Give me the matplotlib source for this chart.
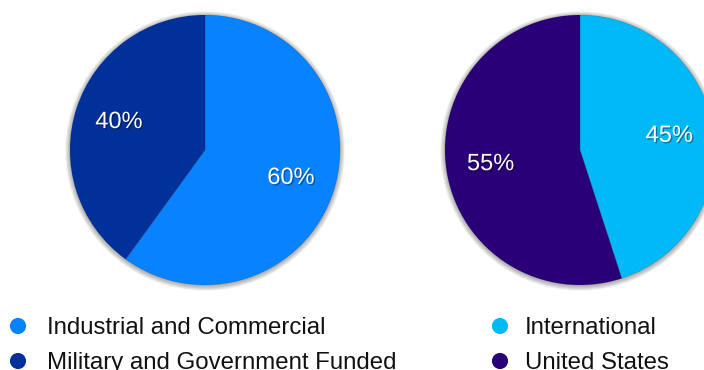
import matplotlib
matplotlib.use("Agg")
import matplotlib.pyplot as plt
import matplotlib.patheffects as pe
from matplotlib.patches import Circle

plt.rcParams['font.family'] = ['Liberation Sans', 'DejaVu Sans']

# Funding source split
source_labels = ["Industrial and Commercial", "Military and Government Funded"]
source_values = [60, 40]
source_colors = ["#0882FF", "#00309A"]

# Market split
market_labels = ["International", "United States"]
market_values = [45, 55]
market_colors = ["#00B9F6", "#2A0079"]

W, H = 704, 370
fig = plt.figure(figsize=(W / 100, H / 100), dpi=100)
ax = fig.add_axes([0, 0, 1, 1])
ax.set_xlim(0, W)
ax.set_ylim(0, H)
ax.set_aspect('equal', adjustable='box')
ax.axis('off')

R = 135
centers = [(205, H - 150), (580, H - 150)]

label_fx = [pe.SimplePatchShadow(offset=(1, -1), shadow_rgbFace='black', alpha=0.35),
            pe.Normal()]


def soft_shadow(cx, cy):
    # layered translucent rings give a blurred drop shadow around the disc
    for i in range(6, 0, -1):
        ax.add_patch(Circle((cx, cy - 1), R + i * 0.8, facecolor='black',
                            edgecolor='none', alpha=0.05, zorder=0))


for (cx, cy), vals, cols in [(centers[0], source_values, source_colors),
                             (centers[1], market_values, market_colors)]:
    soft_shadow(cx, cy)
    wedges, _, autotexts = ax.pie(
        vals, colors=cols, center=(cx, cy), radius=R, startangle=90,
        counterclock=False, autopct='%d%%', pctdistance=0.67,
        wedgeprops=dict(linewidth=0.6, edgecolor=(0, 0, 0, 0.15)),
        textprops=dict(color='white', fontsize=17), frame=True)
    for w in wedges:
        w.set_zorder(1)
    for t in autotexts:
        t.set_path_effects(label_fx)
        t.set_zorder(3)

ax.set_xlim(0, W)
ax.set_ylim(0, H)
ax.axis('off')

# Legend rows: marker centres and text baselines
marker_y = [H - 326, H - 361]
baseline_y = [H - 334, H - 369]
for x_mark, x_text, labels, cols in [(18, 47, source_labels, source_colors),
                                     (500, 525, market_labels, market_colors)]:
    for my, by, lab, col in zip(marker_y, baseline_y, labels, cols):
        ax.scatter([x_mark], [my], s=135, color=col, edgecolors='none', zorder=4)
        ax.text(x_text, by, lab, fontsize=17.3, color='#111111',
                va='baseline', ha='left')

fig.savefig("out.png", dpi=100)
